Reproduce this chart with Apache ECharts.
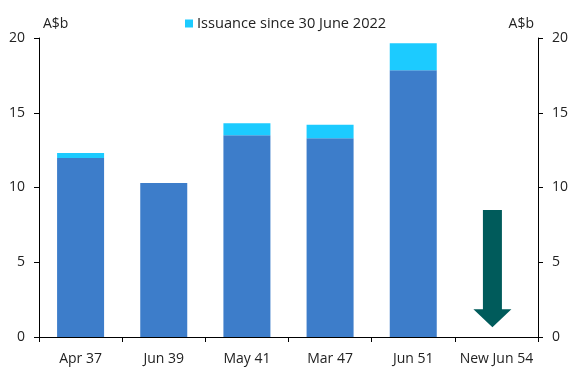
<!DOCTYPE html>
<html>
<head>
<meta charset="utf-8">
<script src="https://cdn.jsdelivr.net/npm/echarts@6/dist/echarts.min.js"></script>
<style>html,body{margin:0;padding:0;background:#fff;}#c{width:578px;height:370px;}</style>
</head>
<body>
<div id="c"></div>
<script>
const categories = ['Apr 37', 'Jun 39', 'May 41', 'Mar 47', 'Jun 51', 'New Jun 54'];
const baseValues = [11.97, 10.3, 13.5, 13.3, 17.85, null];
const issuanceValues = [0.33, 0, 0.8, 0.9, 1.8, null];
const arrowData = [[5, 8.5, 0.65]]; // category index, start, end
const yTicks = [0, 5, 10, 15, 20];

const FONT = '"Open Sans", "Noto Sans", sans-serif';
const chart = echarts.init(document.getElementById('c'), null, {renderer: 'canvas'});

const yAxisCommon = {
  type: 'value', min: 0, max: 20, interval: 5,
  axisLine: {show: true, lineStyle: {color: '#000', width: 1}},
  axisTick: {show: true, length: 5, lineStyle: {color: '#000'}},
  splitLine: {show: false},
  axisLabel: {color: '#222', fontSize: 14, fontFamily: FONT, margin: 14,
    formatter: v => yTicks.includes(v) ? String(v) : ''},
  name: 'A$b', nameLocation: 'end', nameGap: 7
};

chart.setOption({
  animation: false,
  textStyle: {fontFamily: FONT},
  grid: {left: 39, right: 40, top: 38, bottom: 33},
  legend: {
    data: ['Issuance since 30 June 2022'],
    top: 11, left: 180,
    itemWidth: 8, itemHeight: 8, itemGap: 4,
    icon: 'rect',
    textStyle: {color: '#222', fontSize: 14.6, fontFamily: FONT, padding: [0, 0, 0, -1]}
  },
  xAxis: {
    type: 'category', data: categories,
    axisLine: {lineStyle: {color: '#000'}},
    axisTick: {show: true, length: 5, lineStyle: {color: '#000'}},
    axisLabel: {color: '#222', fontSize: 14, fontFamily: FONT, margin: 15, interval: 0}
  },
  yAxis: [
    Object.assign({}, yAxisCommon, {position: 'left',
      nameTextStyle: {color: '#222', fontSize: 14, fontFamily: FONT, align: 'left', padding: [0, 0, 0, 4]}}),
    Object.assign({}, yAxisCommon, {position: 'right',
      nameTextStyle: {color: '#222', fontSize: 14, fontFamily: FONT, align: 'right', padding: [0, 4, 0, 0]}})
  ],
  series: [
    {name: 'Base', type: 'bar', stack: 's', data: baseValues, barWidth: 47,
      itemStyle: {color: '#3d7dca'}},
    {name: 'Issuance since 30 June 2022', type: 'bar', stack: 's', data: issuanceValues, barWidth: 47,
      itemStyle: {color: '#1ccbff'}},
    {name: 'arrow', type: 'custom', data: arrowData,
      encode: {x: 0, y: [1, 2]},
      renderItem: function (params, api) {
        const top = api.coord([api.value(0), api.value(1)]);
        const tip = api.coord([api.value(0), api.value(2)]);
        const cx = top[0] - 4;
        const sw = 9.5, hw = 19, hh = 18;
        const hb = tip[1] - hh;
        return {
          type: 'polygon',
          shape: {points: [
            [cx - sw, top[1]], [cx + sw, top[1]], [cx + sw, hb], [cx + hw, hb],
            [cx, tip[1]], [cx - hw, hb], [cx - sw, hb]
          ]},
          style: {fill: '#005b5b'}
        };
      }
    }
  ]
});
</script>
</body>
</html>
